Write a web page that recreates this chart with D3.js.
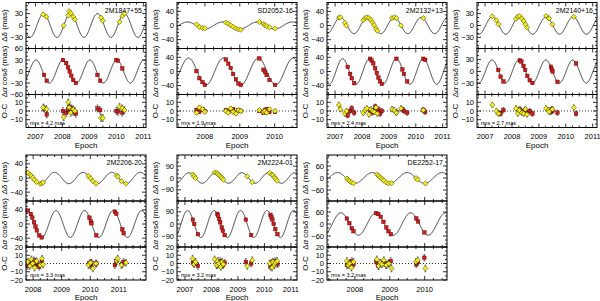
<!DOCTYPE html>
<html>
<head>
<meta charset="utf-8">
<script src="https://cdn.jsdelivr.net/npm/d3@7"></script>
<style>
  body { margin: 0; background: #fff; }
  svg { display: block; }
  text { font-family: "Liberation Sans", Arial, sans-serif; fill: #000; }
</style>
</head>
<body>
<div id="chart"></div>
<script>
// ---- data ----
const names = ["2M1847+55", "SD2052-16", "2M2132+13", "2M2140+16", "2M2206-20", "2M2224-01", "DE2252-17"];
const rmsLabels = ["rms = 4.2 mas", "rms = 1.9 mas", "rms = 2.4 mas", "rms = 2.7 mas", "rms = 3.3 mas", "rms = 3.2 mas", "rms = 3.2 mas"];
const xDomains = [[2006.65, 2011.1], [2007.2, 2010.64], [2006.7, 2011.16], [2006.7, 2011.16], [2007.75, 2011.95], [2006.7, 2011.23], [2007.2, 2010.64]];
const xTicks = [[2007, 2008, 2009, 2010, 2011], [2008, 2009, 2010], [2007, 2008, 2009, 2010, 2011], [2007, 2008, 2009, 2010, 2011], [2008, 2009, 2010, 2011], [2007, 2008, 2009, 2010, 2011], [2008, 2009, 2010]];
const decLimits = [58, 65, 65, 58, 65, 175, 115];
const raLimits = [60, 65, 65, 58, 65, 170, 115];
const ocLimits = [19, 19, 19, 19, 20, 20, 20];
const decSteps = [30, 40, 40, 30, 40, 90, 60];
const raSteps = [30, 40, 40, 30, 40, 90, 60];
// parallax model: amplitude (mas) and epoch of maximum
const decAmp = [30, 10, 23, 22, 16, 40, 27];
const decMax = [2007.3, 2007.5, 2007.2, 2007.27, 2007.75, 2007.15, 2007.5];
const raAmp = [30, 38, 36, 29, 38, 100, 56];
const raMax = [2007.02, 2007.53, 2007.28, 2007.26, 2007.80, 2007.1, 2007.6];
const posErr = [3, 2, 3, 3, 3, 6, 4];
const resErr = [4, 2, 3, 3, 4, 4, 4];

const decT1 = [2007.29, 2007.41, 2008.05, 2008.22, 2008.25, 2008.31, 2008.40, 2008.46, 2009.43, 2009.50, 2010.12, 2010.22, 2010.30];
const decV1 = [28, 22, 0, 25, 36, 31, 22, 15, 20, 12, 9, 24, 30];
const raT1 = [2007.32, 2007.42, 2008.02, 2008.14, 2008.21, 2008.27, 2008.33, 2008.40, 2008.50, 2009.30, 2009.40, 2010.00, 2010.06, 2010.22];
const raV1 = [-9, -24, 30, 22, 11, 0, -11, -22, -30, -9, -24, 30, 28, 8];
const decR1 = [4, 2, -7, 10, 4, -2, 2, 0, -8, -8, 5, 3, 1];
const raR1 = [3, -4, 0, -2, 2, 4, 3, -1, -3, 3, 1, 0, -1, -2];

const decT2 = [2007.76, 2007.84, 2007.93, 2008.0, 2008.60, 2008.67, 2008.74, 2008.81, 2008.89, 2008.96, 2009.03, 2009.56, 2009.68, 2009.72, 2009.77, 2009.85, 2010.01];
const decV2 = [3, -4, -7, -8, 8, 5, 1, -4, -8, -11, -12, 10, 4, 1, -2, -5, -8];
const raT2 = decT2;
const raV2 = [1, -19, -30, -38, 34, 22, 10, -7, -22, -34, -38, 37, 5, -1, -10, -24, -38];
const decR2 = [-2, 4, 2, -1, 0, -2, 3, -1, -3, 1, 0, 1, -1, 0, -2, 2, 0];
const raR2 = [1, -1, 2, 0, 1, -1, 0, 2, -2, 1, 0, 0, -2, 1, 2, -1, -1];

const decT3 = [2007.14, 2007.20, 2007.36, 2007.42, 2008.05, 2008.12, 2008.18, 2008.26, 2008.33, 2008.39, 2008.45, 2008.52, 2008.57, 2009.12, 2009.20, 2009.28, 2009.45, 2010.28];
const decV3 = [22, 23, 8, 0, 15, 21, 23, 21, 16, 9, 1, -9, -15, 21, 23, 21, 0, 21];
const raT3 = [2007.47, 2007.56, 2007.62, 2007.71, 2008.30, 2008.36, 2008.42, 2008.49, 2008.55, 2008.61, 2008.67, 2008.74, 2009.28, 2009.50, 2009.56, 2009.68, 2010.28, 2010.35];
const raV3 = [13, -7, -19, -33, 36, 31, 23, 9, -4, -17, -28, -35, 36, 6, -7, -28, 36, 33];
const decR3 = [7, 2, -3, 0, -2, 1, 3, -4, 2, 0, -1, 4, -3, 2, 1, -2, 3, 1];
const raR3 = [-5, 0, 3, -2, 1, -2, 0, 5, -1, 2, -3, 0, -1, 2, 0, -2, 1, -1];

const decT4 = [2007.27, 2007.42, 2007.50, 2008.15, 2008.22, 2008.27, 2008.37, 2008.44, 2008.50, 2008.56, 2009.27, 2009.36, 2009.38, 2009.50, 2010.30];
const decV4 = [23, 13, 3, 17, 22, 24, 18, 11, 3, -5, 24, 19, 18, 3, 22];
const raT4 = [2007.49, 2007.58, 2007.68, 2008.29, 2008.35, 2008.43, 2008.49, 2008.57, 2008.66, 2008.76, 2009.45, 2009.48, 2009.51, 2009.69, 2010.38];
const raV4 = [4, -13, -25, 28, 25, 14, 4, -11, -22, -29, 12, 5, 0, -26, 20];
const decR4 = [7, 0, -3, 3, -3, 1, -2, -3, 2, -4, 3, 1, -1, 2, 4];
const raR4 = [-2, -3, 1, 2, -1, 0, 1, -2, 0, -3, -1, 2, 0, -2, -3];

const decT5 = [2007.81, 2007.89, 2007.94, 2007.99, 2008.05, 2008.12, 2008.25, 2008.31, 2008.35, 2009.94, 2010.01, 2010.09, 2010.20, 2010.93, 2010.96, 2011.09, 2011.25];
const decV5 = [15, 10, 6, 1, -5, -11, -16, -15, -12, 6, -1, -9, -15, 7, 4, -9, -16];
const raT5 = [2007.81, 2007.92, 2007.97, 2008.03, 2008.08, 2008.13, 2008.21, 2008.30, 2009.97, 2010.02, 2010.04, 2010.21, 2010.86, 2010.91, 2011.12, 2011.17];
const raV5 = [38, 28, 18, 5, -7, -18, -32, -38, 18, 7, 2, -32, 35, 29, -15, -26];
const decR5 = [2, -3, 5, 0, -5, 3, -2, 6, -1, -2, 1, -6, 0, 3, 6, -2, 1];
const raR5 = [-3, 2, 0, 4, -2, 1, -4, 2, 0, -3, 1, 0, -2, 3, -1, 2];

const decT6 = [2007.29, 2007.35, 2007.40, 2008.12, 2008.20, 2008.24, 2008.29, 2008.35, 2008.40, 2008.45, 2009.35, 2009.54, 2010.20, 2010.29, 2010.32, 2010.38, 2010.42, 2010.48];
const decV6 = [26, 13, 0, 42, 38, 31, 21, 10, 0, -13, 13, -31, 38, 26, 21, 5, -5, -20];
const raT6 = [2007.30, 2007.35, 2007.49, 2008.22, 2008.25, 2008.29, 2008.33, 2008.39, 2008.43, 2008.50, 2009.30, 2009.50, 2010.23, 2010.27, 2010.30, 2010.35, 2010.41, 2010.49];
const raV6 = [32, 0, -75, 75, 62, 37, 12, -25, -50, -82, 32, -82, 68, 50, 32, 0, -38, -75];
const decR6 = [6, -1, 2, 5, -2, 3, 0, -4, 2, -1, -3, 4, 0, -5, 2, -2, 1, 3];
const raR6 = [1, 0, -3, -2, 1, -1, 3, 0, -2, 1, 2, 0, -4, 1, -2, 0, 3, -1];

const decT7 = [2007.77, 2007.81, 2007.85, 2007.90, 2007.96, 2008.63, 2008.68, 2008.73, 2008.78, 2008.83, 2008.90, 2008.97, 2009.05, 2009.75, 2009.80, 2010.02];
const decV7 = [-3, -10, -16, -22, -26, 18, 11, 3, -5, -13, -22, -27, -26, 0, -8, -27];
const raT7 = [2007.77, 2007.84, 2007.91, 2007.96, 2008.61, 2008.67, 2008.74, 2008.82, 2008.90, 2008.96, 2009.03, 2009.76, 2009.81, 2009.99];
const raV7 = [27, 4, -21, -36, 54, 50, 36, 11, -17, -36, -51, 28, 12, -42];
const decR7 = [3, -2, 0, -5, 2, 5, -3, 1, -1, 4, -2, 0, -6, 2, 4, -6];
const raR7 = [-2, 0, 3, -1, 2, -3, 0, 1, -2, 0, 3, -1, 2, 7];

const decTs = [decT1, decT2, decT3, decT4, decT5, decT6, decT7];
const decVs = [decV1, decV2, decV3, decV4, decV5, decV6, decV7];
const raTs = [raT1, raT2, raT3, raT4, raT5, raT6, raT7];
const raVs = [raV1, raV2, raV3, raV4, raV5, raV6, raV7];
const decRs = [decR1, decR2, decR3, decR4, decR5, decR6, decR7];
const raRs = [raR1, raR2, raR3, raR4, raR5, raR6, raR7];

// ---- layout ----
const width = 600, height = 301;
const pw = 120;
const hTop = 46, hMid = 46, hOc = 33;
const origins = [[26, 2.5], [177, 2.5], [327, 2.5], [477, 2.5], [26, 155], [177, 155], [327, 155]];
const yellow = "#f2ee1c", red = "#c81e1e";

const svg = d3.select("#chart").append("svg").attr("width", width).attr("height", height);
const defs = svg.append("defs");

function minorStep(step) {
  if (step === 40) return 10;
  if (step === 10) return 5;
  return step / 3;
}

function drawPanel(g, id, x, y, h, step, showX, ticksX) {
  const [d0, d1] = y.domain();
  const majors = d3.range(Math.ceil(d0 / step) * step, d1 + 1e-9, step);
  const ms = minorStep(step);
  const minors = d3.range(Math.ceil(d0 / ms) * ms, d1 + 1e-9, ms).filter(v => Math.abs(v / step - Math.round(v / step)) > 1e-6);
  const [x0, x1] = x.domain();
  const xMaj = d3.range(Math.ceil(x0), x1 + 1e-9, 1);
  const xMin = d3.range(Math.ceil(x0 * 4) / 4, x1 + 1e-9, 0.25).filter(v => Math.abs(v - Math.round(v)) > 1e-6);
  const ax = g.append("g").attr("stroke", "#000").attr("stroke-width", 0.8);
  majors.forEach(v => {
    ax.append("line").attr("x1", 0).attr("x2", 4).attr("y1", y(v)).attr("y2", y(v));
    ax.append("line").attr("x1", pw - 4).attr("x2", pw).attr("y1", y(v)).attr("y2", y(v));
  });
  minors.forEach(v => {
    ax.append("line").attr("x1", 0).attr("x2", 2).attr("y1", y(v)).attr("y2", y(v));
    ax.append("line").attr("x1", pw - 2).attr("x2", pw).attr("y1", y(v)).attr("y2", y(v));
  });
  const top = y.range()[1], bot = y.range()[0];
  xMaj.forEach(v => {
    ax.append("line").attr("x1", x(v)).attr("x2", x(v)).attr("y1", bot).attr("y2", bot - 4);
    ax.append("line").attr("x1", x(v)).attr("x2", x(v)).attr("y1", top).attr("y2", top + 4);
  });
  xMin.forEach(v => {
    ax.append("line").attr("x1", x(v)).attr("x2", x(v)).attr("y1", bot).attr("y2", bot - 2);
    ax.append("line").attr("x1", x(v)).attr("x2", x(v)).attr("y1", top).attr("y2", top + 2);
  });
  g.selectAll(null).data(majors).enter().append("text")
    .attr("x", -3).attr("y", d => y(d) + 2.6)
    .attr("text-anchor", "end").attr("font-size", 7.5)
    .text(d => d3.format("d")(d));
  if (showX) {
    g.selectAll(null).data(ticksX).enter().append("text")
      .attr("x", d => x(d)).attr("y", bot + 11.5)
      .attr("text-anchor", "middle").attr("font-size", 7.5)
      .text(d => d);
  }
  defs.append("clipPath").attr("id", id).append("rect")
    .attr("x", 0).attr("y", top).attr("width", pw).attr("height", h);
}

function diamond(g, cx, cy) {
  const r = 2.6;
  g.append("path").attr("d", `M${cx},${cy - r}L${cx + r},${cy}L${cx},${cy + r}L${cx - r},${cy}Z`)
    .attr("fill", yellow).attr("stroke", "#3a3a10").attr("stroke-width", 0.5);
}
function square(g, cx, cy) {
  const s = 3.6;
  g.append("rect").attr("x", cx - s / 2).attr("y", cy - s / 2).attr("width", s).attr("height", s)
    .attr("fill", red).attr("stroke", "#5a0000").attr("stroke-width", 0.4);
}
function errbar(g, cx, ya, yb) {
  g.append("line").attr("x1", cx).attr("x2", cx).attr("y1", ya).attr("y2", yb)
    .attr("stroke", "#222").attr("stroke-width", 0.6);
  [ya, yb].forEach(v => g.append("line").attr("x1", cx - 1).attr("x2", cx + 1).attr("y1", v).attr("y2", v)
    .attr("stroke", "#222").attr("stroke-width", 0.5));
}

names.forEach((name, i) => {
  const [ox, oy] = origins[i];
  const g = svg.append("g").attr("transform", `translate(${ox},${oy})`);
  const x = d3.scaleLinear().domain(xDomains[i]).range([0, pw]);
  const yDec = d3.scaleLinear().domain([-decLimits[i], decLimits[i]]).range([hTop, 0]);
  const yRa = d3.scaleLinear().domain([-raLimits[i], raLimits[i]]).range([hTop + hMid, hTop]);
  const yOc = d3.scaleLinear().domain([-ocLimits[i], ocLimits[i]]).range([hTop + hMid + hOc, hTop + hMid]);

  drawPanel(g, `c${i}a`, x, yDec, hTop, decSteps[i], false, xTicks[i]);
  drawPanel(g, `c${i}b`, x, yRa, hMid, raSteps[i], false, xTicks[i]);
  drawPanel(g, `c${i}c`, x, yOc, hOc, 10, true, xTicks[i]);

  // model curves
  const tt = d3.range(xDomains[i][0], xDomains[i][1] + 0.005, 0.005);
  const decLine = d3.line().x(t => x(t)).y(t => yDec(decAmp[i] * Math.cos(2 * Math.PI * (t - decMax[i]))));
  const raLine = d3.line().x(t => x(t)).y(t => yRa(raAmp[i] * Math.cos(2 * Math.PI * (t - raMax[i]))));
  g.append("path").attr("d", decLine(tt)).attr("fill", "none").attr("stroke", "#222").attr("stroke-width", 0.9)
    .attr("clip-path", `url(#c${i}a)`);
  g.append("path").attr("d", raLine(tt)).attr("fill", "none").attr("stroke", "#222").attr("stroke-width", 0.9)
    .attr("clip-path", `url(#c${i}b)`);

  // zero line in O-C
  g.append("line").attr("x1", 0).attr("x2", pw).attr("y1", yOc(0)).attr("y2", yOc(0))
    .attr("stroke", "#000").attr("stroke-width", 0.8).attr("stroke-dasharray", "1,2");

  // points
  const pts = g.append("g");
  decTs[i].forEach((t, k) => {
    errbar(pts, x(t), yDec(decVs[i][k] + posErr[i]), yDec(decVs[i][k] - posErr[i]));
    diamond(pts, x(t), yDec(decVs[i][k]));
  });
  raTs[i].forEach((t, k) => {
    errbar(pts, x(t), yRa(raVs[i][k] + posErr[i]), yRa(raVs[i][k] - posErr[i]));
    square(pts, x(t), yRa(raVs[i][k]));
  });
  raTs[i].forEach((t, k) => {
    errbar(pts, x(t), yOc(raRs[i][k] + resErr[i]), yOc(raRs[i][k] - resErr[i]));
    square(pts, x(t), yOc(raRs[i][k]));
  });
  decTs[i].forEach((t, k) => {
    errbar(pts, x(t), yOc(decRs[i][k] + resErr[i]), yOc(decRs[i][k] - resErr[i]));
    diamond(pts, x(t), yOc(decRs[i][k]));
  });

  // frames
  [[0, hTop], [hTop, hMid], [hTop + hMid, hOc]].forEach(([y0, h]) => {
    g.append("rect").attr("x", 0).attr("y", y0).attr("width", pw).attr("height", h)
      .attr("fill", "none").attr("stroke", "#000").attr("stroke-width", 1);
  });

  // labels
  g.append("text").attr("x", pw - 4).attr("y", 10).attr("text-anchor", "end").attr("font-size", 7).text(name);
  g.append("text").attr("x", 4).attr("y", hTop + hMid + hOc - 3).attr("font-size", 5.5).text(rmsLabels[i]);
  g.append("text").attr("x", pw / 2).attr("y", hTop + hMid + hOc + 20).attr("text-anchor", "middle")
    .attr("font-size", 8).text("Epoch");

  const ylab = (cy, parts) => {
    const t = g.append("text").attr("transform", `translate(-19,${cy}) rotate(-90)`)
      .attr("text-anchor", "middle").attr("font-size", 8);
    parts.forEach(([s, it]) => t.append("tspan").attr("font-style", it ? "italic" : null).text(s));
  };
  ylab(hTop / 2, [["Δδ (mas)", false]]);
  ylab(hTop + hMid / 2, [["Δ", false], ["α", true], [" cos", false], ["δ", true], [" (mas)", false]]);
  ylab(hTop + hMid + hOc / 2, [["O-C", false]]);
});
</script>
</body>
</html>
